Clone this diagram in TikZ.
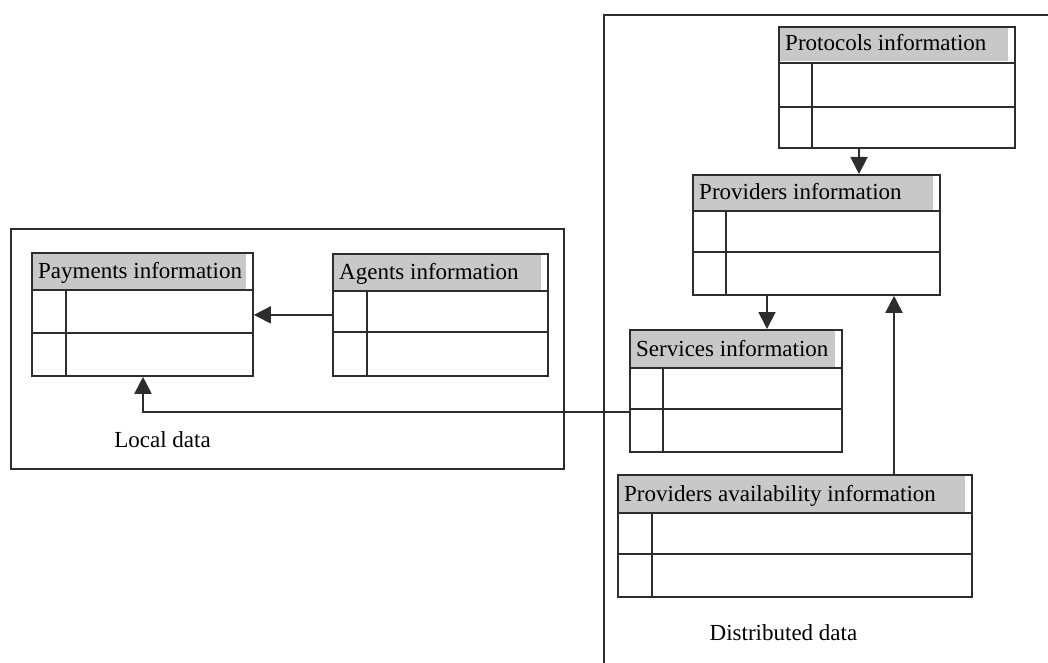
\documentclass[tikz,border=0pt]{standalone}
\usepackage{fontspec}
\setmainfont{Liberation Serif}
\usetikzlibrary{arrows.meta}

\definecolor{hdrgrey}{RGB}{200,200,200}
\definecolor{linegrey}{RGB}{45,45,45}

\tikzset{
  tblbox/.style={draw=linegrey, line width=1.8pt, rectangle, inner sep=0pt},
  tblline/.style={draw=linegrey, line width=1.8pt},
  hdrfill/.style={fill=hdrgrey},
  hdrtext/.style={inner sep=0pt, font=\fontsize{23}{27}\selectfont, text=black},
  lbltext/.style={inner sep=0pt, font=\fontsize{23}{27}\selectfont, text=black},
  container/.style={draw=linegrey, line width=1.6pt, rectangle, inner sep=0pt},
  conn/.style={draw=linegrey, line width=1.8pt, -{Triangle[length=17pt,width=17pt]}},
}

% A record table: grey title row and two two-column body rows.
% #1 name, #2 left, #3 top, #4 right, #5 bottom,
% #6 title row bottom, #7 row divider, #8 key column x, #9 title
\newcommand\dbtable[9]{%
  \fill[hdrfill] (#2+1.5,#3+1.5) rectangle (#4-6,#6-1.5);
  \node[tblbox, minimum width={#4-#2}, minimum height={#5-#3}, anchor=north west] (#1) at (#2,#3) {};
  \draw[tblline] (#2,#6) -- (#4,#6);
  \draw[tblline] (#2,#7) -- (#4,#7);
  \draw[tblline] (#8,#6) -- (#8,#5);
  \node[hdrtext, anchor=base west] (#1-title) at (#2+7,#6-12) {#9};
}

\begin{document}
\begin{tikzpicture}[x=1pt, y=-1pt]
  \clip (0,0) rectangle (1048,663);

  % containers
  \node[container, minimum width=553, minimum height=240, anchor=north west] (local) at (10,228) {};
  \node[container, minimum width=500, minimum height=700, anchor=north west] (dist) at (603,14) {};

  % local tables
  \dbtable{pay}{31}{252}{252}{375}{290}{333}{66}{Payments information}
  \dbtable{agt}{332}{253}{547}{375}{291}{332}{367}{Agents information}

  % distributed tables
  \dbtable{prot}{778}{26}{1014}{147}{63}{107}{812}{Protocols information}
  \dbtable{prov}{692}{174}{939}{294}{211}{252}{726}{Providers information}
  \dbtable{serv}{629}{329}{841}{451}{368}{409}{663}{Services information}
  \dbtable{avail}{617}{474}{971}{596}{513}{554}{652}{Providers availability information}

  % labels
  \node[lbltext, anchor=base] (locallbl) at (162.5,447) {Local data};
  \node[lbltext, anchor=base] (distlbl) at (783.5,640) {Distributed data};

  % connectors
  \draw[conn] (agt.west) -- (pay.east |- agt.west);
  \draw[conn] (prot.south -| 859,0) -- (prov.north -| 859,0);
  \draw[conn] (prov.south -| 767,0) -- (serv.north -| 767,0);
  \draw[conn] (avail.north -| 894,0) -- (prov.south -| 894,0);
  \draw[conn] (serv.west |- 0,412) -| (pay.south -| 143,0);
\end{tikzpicture}
\end{document}
